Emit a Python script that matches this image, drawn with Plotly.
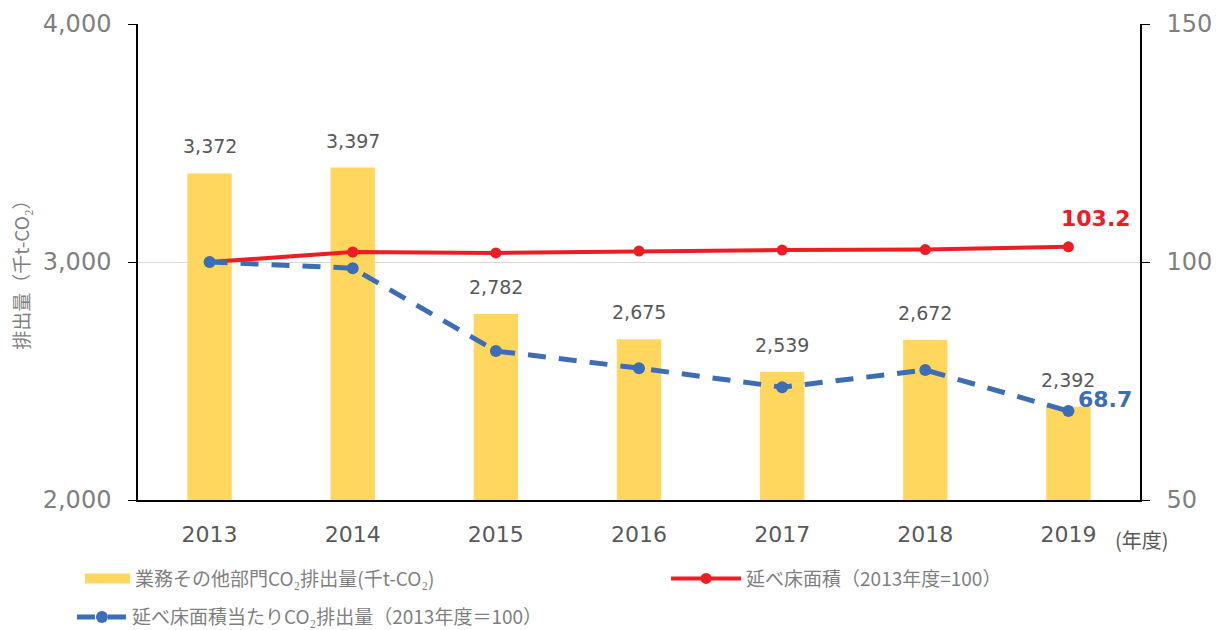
import plotly.graph_objects as go

years = ["2013", "2014", "2015", "2016", "2017", "2018", "2019"]
emissions = [3372, 3397, 2782, 2675, 2539, 2672, 2392]
floor_area = [100.0, 102.1, 101.9, 102.3, 102.5, 102.6, 103.2]
per_area = [100.0, 98.7, 81.3, 77.7, 73.7, 77.3, 68.7]
emission_labels = ["3,372", "3,397", "2,782", "2,675", "2,539", "2,672", "2,392"]

YELLOW = "#FFD75E"
RED = "#EE1C25"
BLUE = "#3E6DB8"
GRAY = "#7F7F7F"
DGRAY = "#595959"
NUMFONT = "DejaVu Sans"
JPFONT = "Noto Sans CJK JP"

fig = go.Figure()
fig.add_trace(go.Bar(
    x=years, y=emissions, name="業務その他部門CO₂排出量(千t-CO₂)",
    marker=dict(color=YELLOW, line=dict(width=0)), width=0.31, yaxis="y",
    showlegend=False,
))
# legend entry for the bars, drawn as a wide swatch like the original
fig.add_trace(go.Scatter(
    x=[None], y=[None], name="業務その他部門CO₂排出量(千t-CO₂)", mode="lines",
    line=dict(color=YELLOW, width=18), legend="legend", yaxis="y",
))
fig.add_trace(go.Scatter(
    x=years, y=floor_area, name="延べ床面積（2013年度=100）", yaxis="y2",
    mode="lines+markers", line=dict(color=RED, width=4),
    marker=dict(color=RED, size=11), legend="legend2",
))
fig.add_trace(go.Scatter(
    x=years, y=per_area, name="延べ床面積当たりCO₂排出量（2013年度＝100）", yaxis="y2",
    mode="lines+markers", line=dict(color=BLUE, width=5, dash="18px,13px"),
    marker=dict(color=BLUE, size=12), legend="legend3",
))

annotations = []
for i, (v, t) in enumerate(zip(emissions, emission_labels)):
    annotations.append(dict(x=i, y=v, xref="x", yref="y", text=t, showarrow=False,
                            yshift=27, font=dict(family=NUMFONT, size=19, color=DGRAY)))
last = len(years) - 1
annotations.append(dict(x=last, y=floor_area[-1], xref="x", yref="y2",
                        text="<b>103.2</b>", showarrow=False, xshift=28, yshift=28,
                        font=dict(family=NUMFONT, size=22, color=RED)))
annotations.append(dict(x=last, y=per_area[-1], xref="x", yref="y2",
                        text="<b>68.7</b>", showarrow=False, xshift=37, yshift=11,
                        font=dict(family=NUMFONT, size=22, color=BLUE)))
annotations.append(dict(x=1.002, y=-0.084, xref="paper", yref="paper", text="(年度)",
                        showarrow=False, xanchor="center", yanchor="middle",
                        font=dict(family=JPFONT, size=20, color=DGRAY)))
annotations.append(dict(x=-0.118, y=0.483, xref="paper", yref="paper",
                        text="排出量（千t-CO₂）", textangle=-90, showarrow=False,
                        xanchor="center", yanchor="middle",
                        font=dict(family=JPFONT, size=19, color=GRAY)))

legfont = dict(family=JPFONT, size=19, color=GRAY)
fig.update_layout(
    width=1218, height=630,
    margin=dict(l=138, r=78, t=24, b=130, autoexpand=False),
    paper_bgcolor="white", plot_bgcolor="white",
    showlegend=True,
    legend=dict(x=-0.0579, y=-0.165, xanchor="left", yanchor="middle",
                font=legfont, itemwidth=45, bgcolor="rgba(0,0,0,0)"),
    legend2=dict(x=0.527, y=-0.165, xanchor="left", yanchor="middle",
                 font=legfont, itemwidth=70, bgcolor="rgba(0,0,0,0)"),
    legend3=dict(x=-0.0659, y=-0.246, xanchor="left", yanchor="middle",
                 font=legfont, itemwidth=50, bgcolor="rgba(0,0,0,0)"),
    xaxis=dict(type="category", range=[-0.5, 6.5], showline=True, linecolor="black",
               linewidth=1.5, ticks="", showgrid=False, ticklabelstandoff=14,
               automargin=False,
               tickfont=dict(family=NUMFONT, size=22, color=DGRAY)),
    yaxis=dict(range=[2000, 4000], tickvals=[2000, 3000, 4000], tickformat=",d",
               showline=True, linecolor="black", linewidth=1.5, ticks="outside",
               ticklen=8, tickcolor="black", showgrid=True, gridcolor="#D9D9D9",
               zeroline=False, ticklabelstandoff=12, automargin=False,
               tickfont=dict(family=NUMFONT, size=24, color=GRAY)),
    yaxis2=dict(range=[50, 150], tickvals=[50, 100, 150], overlaying="y", side="right",
                showline=True, linecolor="black", linewidth=1.5, ticks="outside",
                ticklen=8, tickcolor="black", showgrid=False, zeroline=False,
                ticklabelstandoff=12, automargin=False,
                tickfont=dict(family=NUMFONT, size=24, color=GRAY)),
    annotations=annotations,
)
fig.write_html("out.html", config={"displayModeBar": False},
               post_script="document.body.style.margin='0';")
